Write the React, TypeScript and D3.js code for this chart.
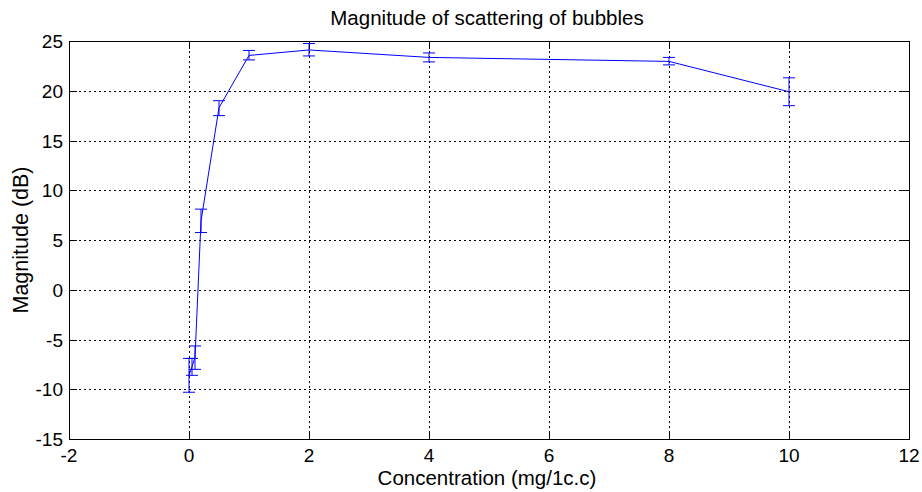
import React from "react";
import * as d3 from "d3";

const concentration = [0, 0.05, 0.1, 0.2, 0.5, 1, 2, 4, 8, 10];
const magnitude = [-8.6, -7.75, -6.8, 6.9, 18.3, 23.55, 24.1, 23.35, 22.95, 19.9];
const errUpper = [-6.9, -6.9, -5.65, 8.1, 19.0, 24.05, 24.75, 23.8, 23.35, 21.3];
const errLower = [-10.3, -8.6, -8.0, 5.75, 17.5, 23.1, 23.5, 22.9, 22.6, 18.5];
const xTicks = [-2, 0, 2, 4, 6, 8, 10, 12];
const yTicks = [-15, -10, -5, 0, 5, 10, 15, 20, 25];

const W = 922;
const H = 492;
const M = { left: 69, right: 909, top: 41, bottom: 439 };
const FONT = "'Liberation Sans', Arial, sans-serif";

export default function App() {
  const x = d3.scaleLinear().domain([-2, 12]).range([M.left, M.right]);
  const y = d3.scaleLinear().domain([-15, 25]).range([M.bottom, M.top]);
  const line = d3
    .line<number>()
    .x((_, i) => x(concentration[i]))
    .y((d) => y(d));
  const tick = 8;
  const cap = 6;
  return (
    <svg
      width={W}
      height={H}
      style={{ position: "absolute", left: 0, top: 0, background: "#fff" }}
      fontFamily={FONT}
    >
      <rect x={0} y={0} width={W} height={H} fill="#fff" />
      {/* grid */}
      {xTicks.slice(1, -1).map((t) => (
        <line
          key={"gx" + t}
          x1={x(t) + 0.5}
          x2={x(t) + 0.5}
          y1={M.top}
          y2={M.bottom}
          stroke="#000"
          strokeDasharray="2,3"
          strokeWidth={1}
        />
      ))}
      {yTicks.slice(1, -1).map((t) => (
        <line
          key={"gy" + t}
          x1={M.left}
          x2={M.right}
          y1={Math.round(y(t)) + 0.5}
          y2={Math.round(y(t)) + 0.5}
          stroke="#000"
          strokeDasharray="2,3"
          strokeWidth={1}
        />
      ))}
      {/* ticks */}
      {xTicks.map((t) => (
        <g key={"tx" + t}>
          <line x1={x(t) + 0.5} x2={x(t) + 0.5} y1={M.bottom} y2={M.bottom - tick} stroke="#000" />
          <line x1={x(t) + 0.5} x2={x(t) + 0.5} y1={M.top} y2={M.top + tick} stroke="#000" />
          <text x={x(t)} y={M.bottom + 23} fontSize={19} textAnchor="middle" fill="#000">
            {t}
          </text>
        </g>
      ))}
      {yTicks.map((t) => (
        <g key={"ty" + t}>
          <line x1={M.left} x2={M.left + tick} y1={Math.round(y(t)) + 0.5} y2={Math.round(y(t)) + 0.5} stroke="#000" />
          <line x1={M.right} x2={M.right - tick} y1={Math.round(y(t)) + 0.5} y2={Math.round(y(t)) + 0.5} stroke="#000" />
          <text x={M.left - 6} y={y(t) + 7} fontSize={19} textAnchor="end" fill="#000">
            {t}
          </text>
        </g>
      ))}
      {/* box */}
      <rect
        x={M.left + 0.5}
        y={M.top + 0.5}
        width={M.right - M.left}
        height={M.bottom - M.top}
        fill="none"
        stroke="#000"
      />
      {/* data line */}
      <path d={line(magnitude) || ""} fill="none" stroke="#0000ff" strokeWidth={1} />
      {/* error bars */}
      {concentration.map((c, i) => (
        <g key={"e" + i} stroke="#0000ff" strokeWidth={1}>
          <line x1={x(c)} x2={x(c)} y1={y(errUpper[i])} y2={y(errLower[i])} />
          <line x1={x(c) - cap} x2={x(c) + cap} y1={y(errUpper[i])} y2={y(errUpper[i])} />
          <line x1={x(c) - cap} x2={x(c) + cap} y1={y(errLower[i])} y2={y(errLower[i])} />
        </g>
      ))}
      {/* labels */}
      <text x={487} y={25} fontSize={20.5} textAnchor="middle" fill="#000">
        Magnitude of scattering of bubbles
      </text>
      <text x={487} y={485} fontSize={20.5} textAnchor="middle" fill="#000">
        Concentration (mg/1c.c)
      </text>
      <text
        transform={`translate(28, ${(M.top + M.bottom) / 2}) rotate(-90)`}
        fontSize={21.5}
        textAnchor="middle"
        fill="#000"
      >
        Magnitude (dB)
      </text>
    </svg>
  );
}
